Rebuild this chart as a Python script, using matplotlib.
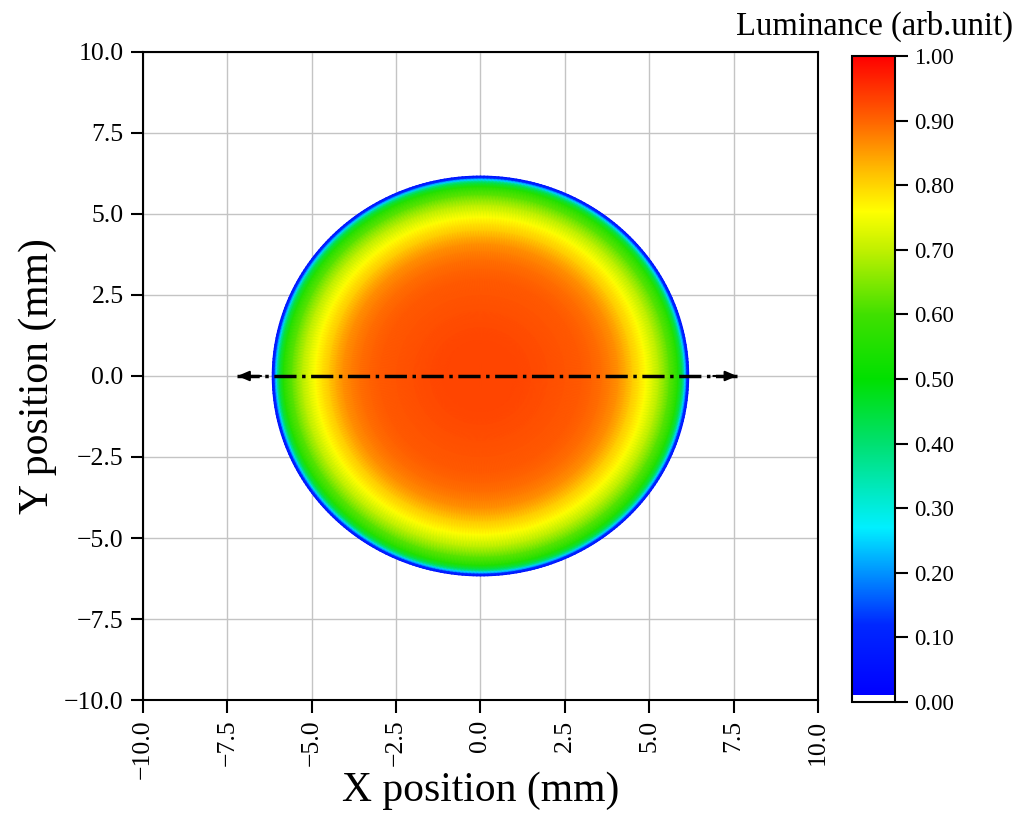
import numpy as np
import matplotlib
matplotlib.use('Agg')
import matplotlib.pyplot as plt
from matplotlib.colors import LinearSegmentedColormap

plt.rcParams['font.family'] = ['Liberation Serif', 'DejaVu Serif']

# radial luminance profile of the spot
radio_mm = [0.0, 1.0, 2.0, 3.0, 3.6, 4.1, 4.5, 4.9, 5.3, 5.6, 5.85, 5.98, 6.06, 6.12, 6.17]
luminancia = [0.93, 0.93, 0.92, 0.91, 0.89, 0.86, 0.81, 0.76, 0.69, 0.62, 0.55, 0.42, 0.25, 0.12, 0.06]

# dash-dot scan line across the spot
flecha_x = [-7.2, 7.6]
flecha_y = [0.0, 0.0]

ticks_ejes = [-10.0, -7.5, -5.0, -2.5, 0.0, 2.5, 5.0, 7.5, 10.0]
ticks_barra = [0.0, 0.1, 0.2, 0.3, 0.4, 0.5, 0.6, 0.7, 0.8, 0.9, 1.0]

#___Mapa de color tipo jet con blanco abajo___#
colores = [(0.0, '#ffffff'), (0.011, '#ffffff'), (0.011, '#0000ff'),
           (0.12, '#0028ff'), (0.27, '#00f0ff'), (0.40, '#00e070'),
           (0.50, '#00e000'), (0.60, '#40e000'), (0.70, '#c0f000'),
           (0.76, '#ffff00'), (0.82, '#ffc000'), (0.90, '#ff6400'),
           (1.0, '#ff0000')]
mapa = LinearSegmentedColormap.from_list('lum', colores, N=1024)


def etiqueta(v, fmt):
    return (fmt % v).replace('-', '\u2212')


fig = plt.figure(figsize=[10.25, 8.25], dpi=100)
ax = fig.add_axes([0.1395, 0.1515, 0.6585, 0.7855])

angulos = np.linspace(0, 2 * np.pi, 361)
R, T = np.meshgrid(radio_mm, angulos)
C = np.tile(luminancia, (len(angulos), 1))
malla = ax.pcolormesh(R * np.cos(T), R * np.sin(T), C, shading='gouraud',
                      cmap=mapa, vmin=0, vmax=1, zorder=1)

ax.plot(flecha_x, flecha_y, color='black', linestyle='-.', linewidth=2.5, zorder=3)
estilo = '-|>,head_length=0.7,head_width=0.3'
ax.annotate('', xy=(flecha_x[0], flecha_y[0]), xytext=(flecha_x[0] + 0.7, flecha_y[0]),
            arrowprops=dict(arrowstyle=estilo, color='black', lw=1.5,
                            shrinkA=0, shrinkB=0), zorder=4)
ax.annotate('', xy=(flecha_x[1], flecha_y[1]), xytext=(flecha_x[1] - 0.7, flecha_y[1]),
            arrowprops=dict(arrowstyle=estilo, color='black', lw=1.5,
                            shrinkA=0, shrinkB=0), zorder=4)

ax.set_xlim(-10, 10)
ax.set_ylim(-10, 10)
ax.set_xticks(ticks_ejes)
ax.set_yticks(ticks_ejes)
ax.set_xticklabels([etiqueta(t, '%.1f') for t in ticks_ejes], rotation=90)
ax.set_yticklabels([etiqueta(t, '%.1f') for t in ticks_ejes])
ax.set_axisbelow(True)
ax.grid(True, color='#c4c4c4', linewidth=1.0)
ax.tick_params(direction='out', length=9, width=1.5, labelsize=18.5, pad=5)
for s in ax.spines.values():
    s.set_linewidth(1.5)

ax.set_xlabel('X position (mm)', fontsize=30)
ax.set_ylabel('Y position (mm)', fontsize=30)
ax.xaxis.set_label_coords(0.5, -0.11)
ax.yaxis.set_label_coords(-0.128, 0.5)

#__Barra de color__#
cax = fig.add_axes([0.831, 0.149, 0.042, 0.783])
barra = fig.colorbar(malla, cax=cax, ticks=ticks_barra)
barra.set_ticklabels([etiqueta(t, '%.2f') for t in ticks_barra])
barra.outline.set_linewidth(1.5)
cax.tick_params(direction='out', length=9, width=1.5, labelsize=16.5, pad=5)
fig.text(0.853, 0.968, 'Luminance (arb.unit)', fontsize=23.5, ha='center', va='center')

plt.savefig('out.png', dpi=100)
